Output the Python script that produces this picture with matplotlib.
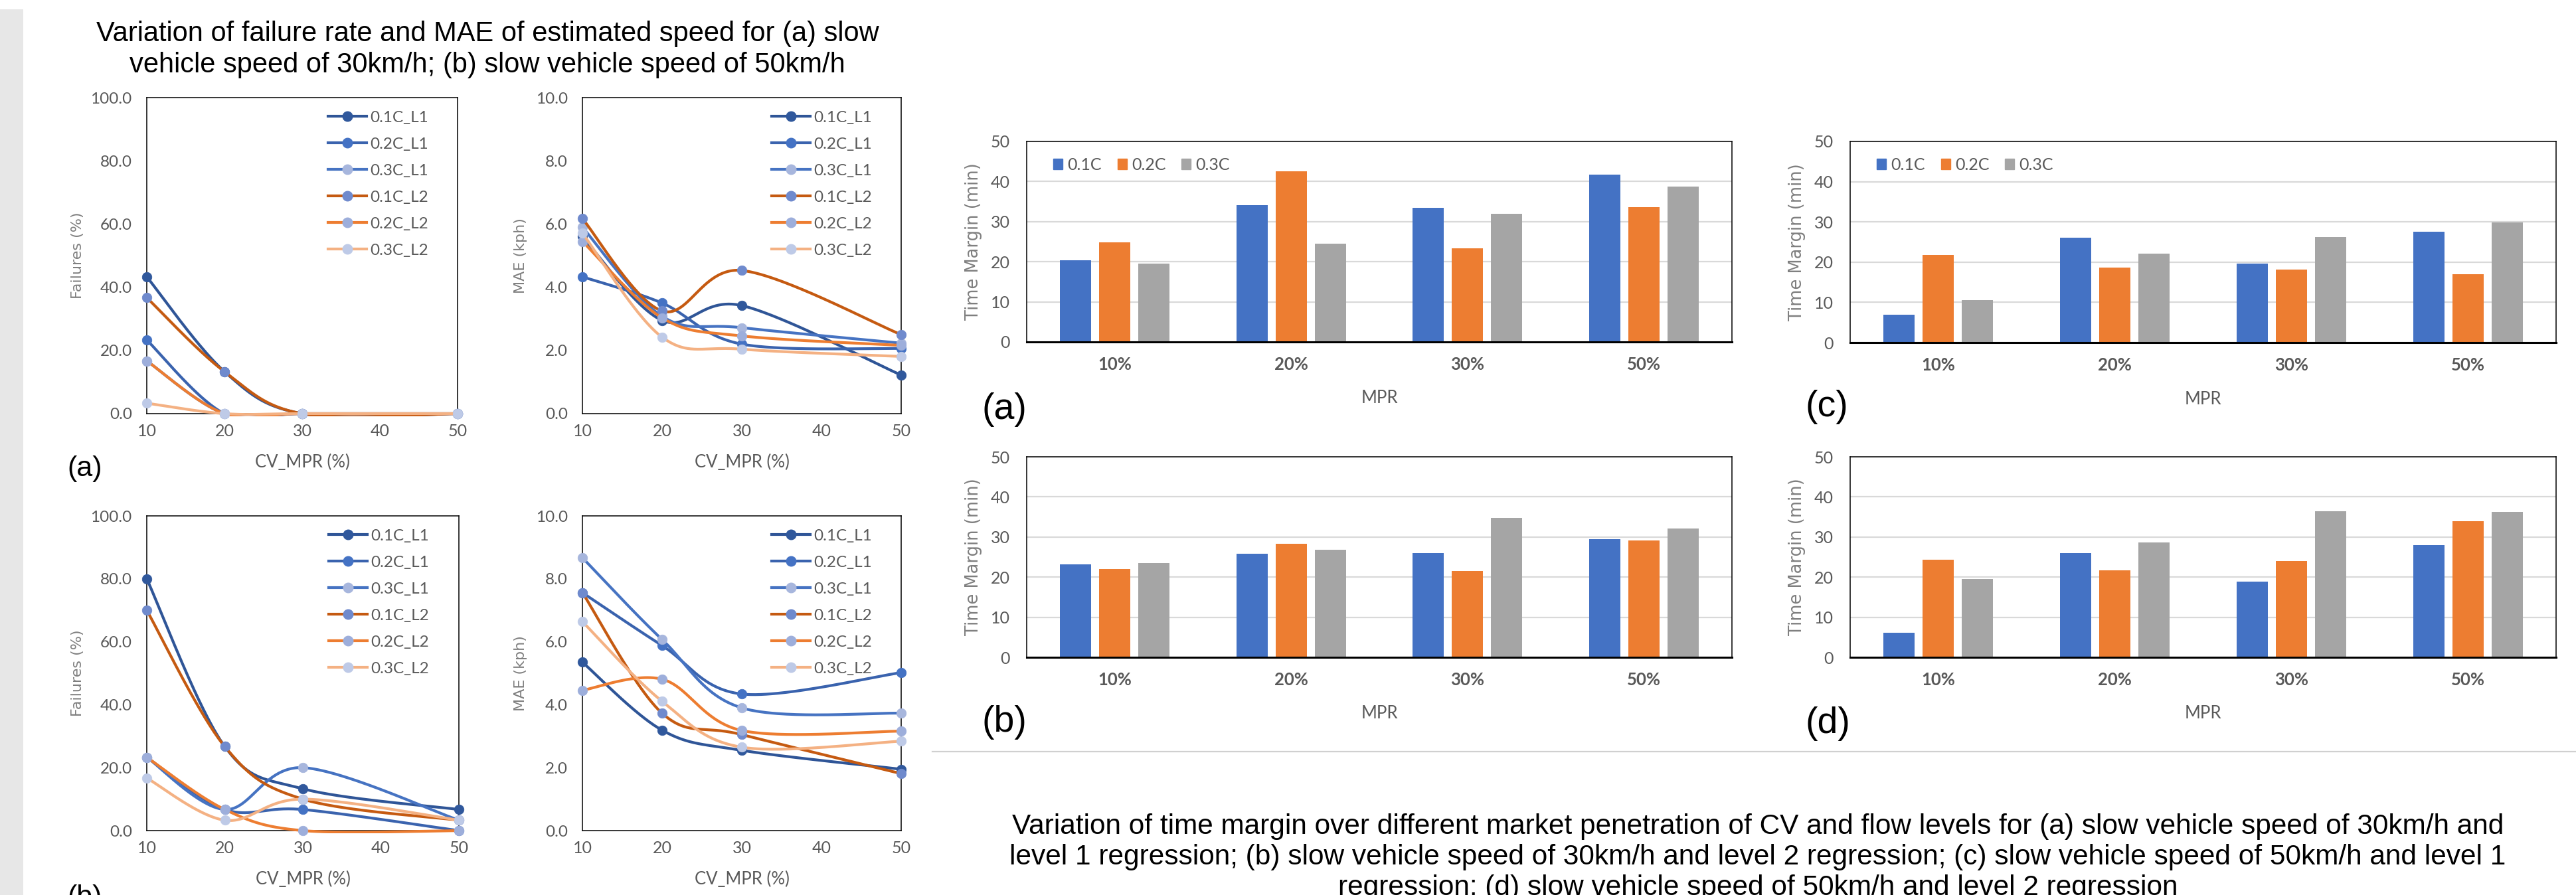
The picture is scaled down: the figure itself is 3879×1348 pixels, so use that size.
import numpy as np
import matplotlib
matplotlib.use("Agg")
import matplotlib.pyplot as plt
from matplotlib.lines import Line2D
from matplotlib.patches import Rectangle, Patch
from matplotlib.transforms import Bbox, TransformedBbox

W, H, DPI = 3879, 1348, 100

# ---------------- data ----------------
cv_mpr = [10, 20, 30, 50]
series_names = ["0.1C_L1", "0.2C_L1", "0.3C_L1", "0.1C_L2", "0.2C_L2", "0.3C_L2"]

# failures (%) for slow vehicle 30 km/h  (rows follow series_names)
failures_30 = [
    [43.3, 13.3, 0.0, 0.0],
    [23.3, 0.0, 0.0, 0.0],
    [16.7, 0.0, 0.0, 0.0],
    [36.7, 13.3, 0.0, 0.0],
    [16.7, 0.0, 0.0, 0.0],
    [3.3, 0.0, 0.0, 0.0],
]
# MAE (kph) for slow vehicle 30 km/h
mae_30 = [
    [5.60, 2.95, 3.42, 1.22],
    [4.33, 3.50, 2.20, 2.06],
    [5.90, 3.08, 2.72, 2.23],
    [6.17, 3.25, 4.53, 2.50],
    [5.45, 3.03, 2.46, 2.16],
    [5.71, 2.42, 2.04, 1.81],
]
# failures (%) for slow vehicle 50 km/h
failures_50 = [
    [80.0, 26.7, 13.3, 6.7],
    [23.3, 6.7, 6.7, 0.0],
    [23.3, 6.7, 20.0, 3.3],
    [70.0, 26.7, 10.0, 3.3],
    [23.3, 6.7, 0.0, 0.0],
    [16.7, 3.3, 10.0, 3.3],
]
# MAE (kph) for slow vehicle 50 km/h
mae_50 = [
    [5.35, 3.19, 2.55, 1.95],
    [7.56, 5.88, 4.34, 5.02],
    [8.67, 6.07, 3.90, 3.73],
    [7.56, 3.73, 3.05, 1.81],
    [4.46, 4.81, 3.18, 3.16],
    [6.64, 4.11, 2.65, 2.84],
]

mpr_labels = ["10%", "20%", "30%", "50%"]
flow_labels = ["0.1C", "0.2C", "0.3C"]
# time margin (min): rows = flow levels 0.1C, 0.2C, 0.3C
tm_a = [[20.4, 34.1, 33.5, 41.8], [24.8, 42.5, 23.4, 33.6], [19.6, 24.5, 31.9, 38.8]]
tm_b = [[23.1, 25.9, 26.0, 29.4], [22.1, 28.3, 21.5, 29.2], [23.5, 26.9, 34.8, 32.2]]
tm_c = [[7.0, 26.0, 19.6, 27.5], [21.8, 18.7, 18.2, 17.0], [10.5, 22.1, 26.3, 29.9]]
tm_d = [[6.1, 26.0, 18.9, 28.0], [24.3, 21.7, 24.0, 33.9], [19.5, 28.7, 36.5, 36.2]]

# ---------------- styles ----------------
line_colors = ["#2F5597", "#3A63AE", "#4673C2", "#C55A11", "#ED7D31", "#F4B183"]
marker_colors = ["#30589C", "#4472C4", "#A7B6DD", "#6F8ACD", "#9DAEDB", "#BECAE7"]
bar_colors = ["#4472C4", "#ED7D31", "#A5A5A5"]
TXT = "#595959"
LBL = "#7F7F7F"
TICKF = "Lato"
TITLEF = "Liberation Sans"
LABELF = "DejaVu Sans"
LW = 3.0
MS = 10.5


def excel_smooth(xs, ys, n=60):
    P = np.column_stack([xs, ys]).astype(float)
    ext = np.vstack([P[0], P, P[-1]])
    t = np.linspace(0, 1, n)[:, None]
    out = []
    for i in range(len(P) - 1):
        p0, p1, p2, p3 = ext[i], ext[i + 1], ext[i + 2], ext[i + 3]
        c1 = p1 + (p2 - p0) / 6.0
        c2 = p2 - (p3 - p1) / 6.0
        seg = (1 - t) ** 3 * p1 + 3 * (1 - t) ** 2 * t * c1 + 3 * (1 - t) * t ** 2 * c2 + t ** 3 * p2
        out.append(seg if i == 0 else seg[1:])
    return np.vstack(out)


fig = plt.figure(figsize=(W / DPI, H / DPI), dpi=DPI)
fig.patch.set_facecolor("white")


def px_axes(x0, y0, x1, y1):
    return fig.add_axes([x0 / W, 1 - y1 / H, (x1 - x0) / W, (y1 - y0) / H])


def line_panel(rect, data, ymax, ylabel, ylab_off, leg_x):
    ax = px_axes(*rect)
    ax.set_xlim(10, 50)
    ax.set_ylim(0, ymax)
    clipbox = TransformedBbox(Bbox([[-0.01, -0.008], [1.01, 1.0]]), ax.transAxes)
    for i, vals in enumerate(data):
        curve = excel_smooth(cv_mpr, vals)
        ln, = ax.plot(curve[:, 0], curve[:, 1], color=line_colors[i], lw=LW,
                      solid_capstyle="round", zorder=3 + i * 0.1)
        ln.set_clip_box(clipbox)
        ax.plot(cv_mpr, vals, linestyle="none", marker="o", ms=MS,
                mfc=marker_colors[i], mec=marker_colors[i], mew=0.5,
                zorder=3.05 + i * 0.1, clip_on=False)
    ax.set_xticks([10, 20, 30, 40, 50])
    ax.set_xticklabels(["10", "20", "30", "40", "50"], fontsize=18, family=TICKF, color=TXT)
    ticks = np.linspace(0, ymax, 6)
    ax.set_yticks(ticks)
    ax.set_yticklabels([f"{v:.1f}" for v in ticks], fontsize=17.5, family=TICKF, color=TXT)
    ax.tick_params(axis="both", length=0)
    ax.tick_params(axis="x", pad=11)
    ax.tick_params(axis="y", pad=16)
    for s in ax.spines.values():
        s.set_color("black")
        s.set_linewidth(1.1)
    ax.text(0.5, -0.155, "CV_MPR (%)", transform=ax.transAxes, ha="center", va="center",
            fontsize=18.5, family=TICKF, color=TXT)
    ax.text(ylab_off, 0.5, ylabel, transform=ax.transAxes, ha="center", va="center",
            rotation=90, fontsize=16, family=LABELF, color=LBL)
    handles = [Line2D([], [], color=line_colors[i], lw=LW, marker="o", ms=MS,
                      mfc=marker_colors[i], mec=marker_colors[i]) for i in range(6)]
    leg = ax.legend(handles, series_names, loc="upper left", bbox_to_anchor=(leg_x, 0.958),
                    frameon=False, handlelength=2.4, handletextpad=0.2,
                    labelspacing=0.78, borderpad=0, borderaxespad=0, numpoints=1,
                    prop={"family": TICKF, "size": 17.5})
    for t in leg.get_texts():
        t.set_color(TXT)
    return ax


line_panel((221, 147, 689, 623), failures_30, 100, "Failures (%)", -0.222, 0.583)
line_panel((877, 147, 1357, 623), mae_30, 10, "MAE (kph)", -0.194, 0.594)
line_panel((221, 777, 691, 1251), failures_50, 100, "Failures (%)", -0.222, 0.583)
line_panel((877, 777, 1357, 1251), mae_50, 10, "MAE (kph)", -0.194, 0.594)


def bar_panel(rect, data, show_legend):
    ax = px_axes(*rect)
    x = np.arange(len(mpr_labels))
    width = 0.177
    offs = [-0.222, 0.0, 0.222]
    for j, vals in enumerate(data):
        ax.bar(x + offs[j], vals, width=width, color=bar_colors[j], zorder=3, label=flow_labels[j])
    ax.set_xlim(-0.5, len(mpr_labels) - 0.5)
    ax.set_ylim(0, 50)
    ax.set_yticks([0, 10, 20, 30, 40, 50])
    ax.set_yticklabels(["0", "10", "20", "30", "40", "50"], fontsize=18, family=TICKF, color=TXT)
    ax.set_xticks(x)
    ax.set_xticklabels(mpr_labels, fontsize=18.5, family=TICKF, fontweight="bold", color=TXT)
    ax.tick_params(axis="both", length=0)
    ax.tick_params(axis="x", pad=16)
    ax.tick_params(axis="y", pad=18)
    ax.grid(axis="y", color="#D9D9D9", lw=1.6, zorder=0)
    ax.set_axisbelow(True)
    for s in ax.spines.values():
        s.set_color("black")
        s.set_linewidth(1.1)
    ax.spines["bottom"].set_linewidth(2.2)
    ax.spines["bottom"].set_zorder(5)
    ax.text(0.5, -0.281, "MPR", transform=ax.transAxes, ha="center", va="center",
            fontsize=18.5, family=TICKF, color=TXT)
    ax.text(-0.0753, 0.5, "Time Margin (min)", transform=ax.transAxes, ha="center",
            va="center", rotation=90, fontsize=18.5, family=LABELF, color=LBL)
    if show_legend:
        handles = [Patch(color=c) for c in bar_colors]
        leg = ax.legend(handles, flow_labels, loc="center left", bbox_to_anchor=(0.038, 0.883),
                        ncol=3, frameon=False, handlelength=0.55, handleheight=0.6,
                        handletextpad=0.3, columnspacing=0.95, borderpad=0, borderaxespad=0,
                        prop={"family": TICKF, "size": 18})
        for t in leg.get_texts():
            t.set_color(TXT)
    return ax


bar_panel((1546, 213, 2608, 515), tm_a, True)
bar_panel((2786, 213, 3849, 516), tm_c, True)
bar_panel((1546, 688, 2608, 990), tm_b, False)
bar_panel((2786, 688, 3849, 990), tm_d, False)

# ---------------- decorations ----------------
fig.add_artist(Rectangle((0, 0), 35 / W, (H - 14) / H, transform=fig.transFigure,
                         facecolor="#E7E7E7", edgecolor="none", zorder=0))
fig.add_artist(Line2D([1404 / W, 1.0], [1 - 1132 / H] * 2, transform=fig.transFigure,
                      color="#D0D0D0", lw=1.6))

fig.text(734 / W, 1 - 74.5 / H,
         "Variation of failure rate and MAE of estimated speed for (a) slow\n"
         "vehicle speed of 30km/h; (b) slow vehicle speed of 50km/h",
         ha="center", va="center", fontsize=30, family=TITLEF, color="black",
         linespacing=1.2)

fig.text(2647 / W, 1 - 1291 / H,
         "Variation of time margin over different market penetration of CV and flow levels for (a) slow vehicle speed of 30km/h and\n"
         "level 1 regression; (b) slow vehicle speed of 30km/h and level 2 regression; (c) slow vehicle speed of 50km/h and level 1\n"
         "regression; (d) slow vehicle speed of 50km/h and level 2 regression",
         ha="center", va="center", fontsize=30.5, family=TITLEF, color="black",
         linespacing=1.2)

# panel letters
fig.text(101 / W, 1 - 706 / H, "(a)", ha="left", va="center", fontsize=31, family=TITLEF)
fig.text(101 / W, 1 - 1352 / H, "(b)", ha="left", va="center", fontsize=31, family=TITLEF)
fig.text(1478 / W, 1 - 617 / H, "(a)", ha="left", va="center", fontsize=40, family=TITLEF)
fig.text(2718 / W, 1 - 613 / H, "(c)", ha="left", va="center", fontsize=40, family=TITLEF)
fig.text(1478 / W, 1 - 1088 / H, "(b)", ha="left", va="center", fontsize=40, family=TITLEF)
fig.text(2718 / W, 1 - 1090 / H, "(d)", ha="left", va="center", fontsize=40, family=TITLEF)

fig.savefig("out.png", dpi=DPI, facecolor="white")
